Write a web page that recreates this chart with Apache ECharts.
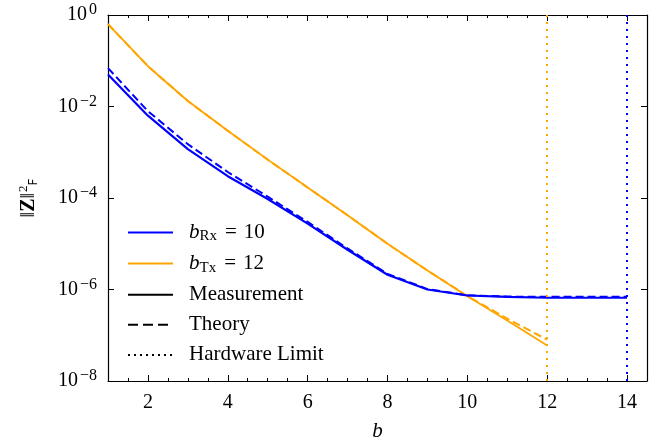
<!DOCTYPE html>
<html>
<head>
<meta charset="utf-8">
<script src="https://cdn.jsdelivr.net/npm/echarts@6/dist/echarts.min.js"></script>
<style>
  html, body { margin: 0; padding: 0; background: #fff; }
  #chart { width: 659px; height: 447px; }
</style>
</head>
<body>
<div id="chart"></div>
<script>
// bit resolution b
var bRx = [1, 2, 3, 4, 5, 6, 7, 8, 9, 10, 11, 12, 13, 14]
var bTx = [1, 2, 3, 4, 5, 6, 7, 8, 9, 10, 11, 12]

// ||Z||_F^2
var rxMeasured = [5.0e-2, 6.3e-3, 1.17e-3, 3.0e-4, 9.5e-5, 2.75e-5, 7.4e-6, 2.1e-6, 1.0e-6, 7.4e-7, 6.9e-7, 6.6e-7, 6.6e-7, 6.6e-7]
var rxTheory = [6.9e-2, 7.9e-3, 1.5e-3, 3.7e-4, 1.07e-4, 3.0e-5, 7.9e-6, 2.2e-6, 1.02e-6, 7.5e-7, 7.0e-7, 6.9e-7, 6.9e-7, 6.9e-7]
var txMeasured = [0.63, 7.6e-2, 1.32e-2, 2.95e-3, 6.9e-4, 1.7e-4, 4.2e-5, 1.0e-5, 2.6e-6, 7.1e-7, 2.1e-7, 6.0e-8]
var txTheory = [0.63, 7.6e-2, 1.32e-2, 2.95e-3, 6.9e-4, 1.7e-4, 4.2e-5, 1.0e-5, 2.6e-6, 7.2e-7, 2.3e-7, 8.0e-8]

var hwLimitTx = 12
var hwLimitRx = 14

var xTicks = [2, 4, 6, 8, 10, 12, 14]

var BLUE = '#0000ff'
var ORANGE = '#ffa500'
var FONT = 'Liberation Serif'
var NOFILL = 'rgba(0,0,0,0)'

function zip(xs, ys) {
  return xs.map(function (x, i) { return [x, ys[i]] })
}

function yLabel(v) {
  var e = Math.round(Math.log10(v))
  return '{b|10}{e|' + (e < 0 ? '\u2212' + (-e) : e) + '}'
}

var legendNames = {
  rx: '{i|b}{s|Rx}{q|=}{u|10}',
  tx: '{i|b}{s|Tx}{q|=}{u|12}',
  meas: '{t|Measurement}',
  theory: '{t|Theory}',
  hw: '{t|Hardware Limit}'
}

function minorAxis(pos) {
  return {
    type: 'value', position: pos, min: 1, max: 14.5, interval: 0.5,
    axisLine: { show: false },
    axisTick: { inside: true, length: 3, lineStyle: { color: '#000', width: 1 } },
    axisLabel: { show: false },
    splitLine: { show: false }
  }
}

function majorAxis(pos, labels) {
  return {
    type: 'value', position: pos, min: 1, max: 14.5,
    axisLine: { show: true, onZero: false, lineStyle: { color: '#000', width: 1.2 } },
    axisTick: { inside: true, length: 6, customValues: xTicks, lineStyle: { color: '#000', width: 1 } },
    axisLabel: labels ? { customValues: xTicks, color: '#000', fontFamily: FONT, fontSize: 20, margin: 12 } : { show: false },
    splitLine: { show: false }
  }
}

// legend-only series: no data, only a line style
function keySeries(name, color, dash) {
  return {
    name: name, type: 'line', data: [], symbol: 'none',
    lineStyle: { color: color, width: 2, type: dash || 'solid' },
    itemStyle: { color: NOFILL, borderColor: NOFILL }
  }
}

var chart = echarts.init(document.getElementById('chart'))

var xBottom = majorAxis('bottom', true)
xBottom.name = 'b'
xBottom.nameLocation = 'middle'
xBottom.nameGap = 40
xBottom.nameTextStyle = { fontFamily: FONT, fontStyle: 'italic', fontSize: 21, color: '#000' }

chart.setOption({
  animation: false,
  grid: { left: 108, right: 12, top: 15, bottom: 63 },
  xAxis: [xBottom, minorAxis('bottom'), majorAxis('top', false), minorAxis('top')],
  yAxis: [
    {
      type: 'log', logBase: 10, min: 1e-8, max: 1, interval: 2, position: 'left',
      axisLine: { show: true, lineStyle: { color: '#000', width: 1.2 } },
      axisTick: { inside: true, length: 6, lineStyle: { color: '#000' } },
      axisLabel: {
        formatter: yLabel, margin: 11,
        rich: {
          b: { fontFamily: FONT, fontSize: 20, color: '#000' },
          e: { fontFamily: FONT, fontSize: 16, color: '#000', verticalAlign: 'top', padding: [0, 0, 10, 2] }
        }
      },
      splitLine: { show: false },
      name: '{n|\u2016}{z|Z}{n|\u2016}{p|2}{f|F}',
      nameLocation: 'middle',
      nameGap: 68,
      nameTextStyle: {
        rich: {
          n: { fontFamily: FONT, fontSize: 20, color: '#000' },
          z: { fontFamily: FONT, fontSize: 20, fontWeight: 'bold', color: '#000' },
          p: { fontFamily: FONT, fontSize: 13, color: '#000', verticalAlign: 'top', padding: [0, 0, 10, 1] },
          f: { fontFamily: 'DejaVu Sans', fontSize: 12, color: '#000', verticalAlign: 'bottom', padding: [8, 0, 0, 0] }
        }
      }
    },
    {
      type: 'log', logBase: 10, min: 1e-8, max: 1, interval: 2, position: 'right',
      axisLine: { show: true, lineStyle: { color: '#000', width: 1.2 } },
      axisTick: { inside: true, length: 6, lineStyle: { color: '#000' } },
      axisLabel: { show: false },
      splitLine: { show: false }
    }
  ],
  legend: {
    data: ['rx', 'tx', 'meas', 'theory', 'hw'],
    orient: 'vertical',
    left: 122,
    top: 217,
    itemWidth: 45,
    itemHeight: 20,
    itemGap: 9.1,
    selectedMode: false,
    formatter: function (name) { return legendNames[name] },
    textStyle: {
      rich: {
        i: { fontFamily: FONT, fontStyle: 'italic', fontSize: 21, lineHeight: 20, color: '#000', padding: [0, 0, 0, 11] },
        s: { fontFamily: FONT, fontSize: 15, color: '#000', verticalAlign: 'bottom', padding: [8, 0, 0, 0] },
        q: { fontFamily: FONT, fontSize: 21, lineHeight: 20, color: '#000', padding: [0, 7, 0, 8] },
        u: { fontFamily: FONT, fontSize: 21, lineHeight: 20, color: '#000' },
        t: { fontFamily: FONT, fontSize: 21, lineHeight: 20, color: '#000', padding: [0, 0, 0, 11] }
      }
    }
  },
  series: [
    keySeries('rx', BLUE),
    keySeries('tx', ORANGE),
    keySeries('meas', '#000'),
    keySeries('theory', '#000', [10, 5]),
    keySeries('hw', '#000', [2, 4]),

    { name: 'txTheory', type: 'line', data: zip(bTx, txTheory), symbol: 'none',
      lineStyle: { color: ORANGE, width: 2, type: [8, 4] } },
    { name: 'txMeasured', type: 'line', data: zip(bTx, txMeasured), symbol: 'none',
      lineStyle: { color: ORANGE, width: 1.8 },
      markLine: { symbol: 'none', silent: true, label: { show: false },
        lineStyle: { color: ORANGE, width: 2, type: [2, 5] }, data: [{ xAxis: hwLimitTx }] } },
    { name: 'rxTheory', type: 'line', data: zip(bRx, rxTheory), symbol: 'none',
      lineStyle: { color: BLUE, width: 2, type: [8, 4] } },
    { name: 'rxMeasured', type: 'line', data: zip(bRx, rxMeasured), symbol: 'none',
      lineStyle: { color: BLUE, width: 2.2 },
      markLine: { symbol: 'none', silent: true, label: { show: false },
        lineStyle: { color: BLUE, width: 2, type: [2, 5] }, data: [{ xAxis: hwLimitRx }] } }
  ]
})
</script>
</body>
</html>
